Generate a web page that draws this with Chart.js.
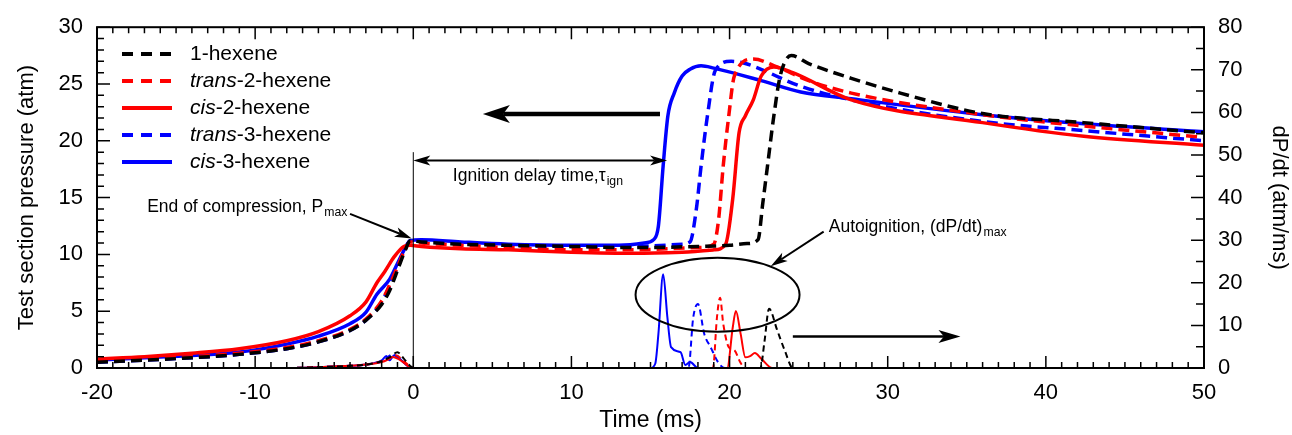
<!DOCTYPE html>
<html>
<head>
<meta charset="utf-8">
<script src="https://cdn.jsdelivr.net/npm/chart.js@4.4.1/dist/chart.umd.min.js"></script>
<style>
  html, body { margin: 0; padding: 0; background: #fff; }
  #wrap { width: 1292px; height: 435px; }
</style>
</head>
<body>
<div id="wrap"><canvas id="pressureChart"></canvas></div>
<script>
const FONT = '"Liberation Sans", Arial, Helvetica, sans-serif';

// legend / series info
const legendItalic = ["", "trans", "cis", "trans", "cis"];
const legendRest = ["1-hexene", "-2-hexene", "-2-hexene", "-3-hexene", "-3-hexene"];
const colors = ["#000000", "#ff0000", "#ff0000", "#0000ff", "#0000ff"];
const dashed = [true, true, false, true, false];

// pressure traces (atm, left axis) vs time (ms)
const hex1T = [-20, -17, -14, -11, -8, -6, -4, -3, -2, -1.5, -1, -0.5, -0.2, 0.5, 3, 6, 10, 14, 18, 20, 21.1, 21.8, 22.1, 22.4, 22.8, 23.2, 23.9, 25, 27.7, 30.8, 36, 42.4, 50];
const hex1P = [0.5, 0.7, 0.9, 1.2, 1.7, 2.3, 3.3, 4.2, 5.6, 6.8, 8.6, 10.4, 11.2, 11.1, 10.9, 10.8, 10.7, 10.6, 10.7, 10.8, 10.95, 11.3, 14.5, 17.8, 22.2, 25.7, 27.5, 26.8, 25.5, 24.2, 22.4, 21.6, 20.7];

const t2hexT = [-20, -17, -14, -11, -8, -6, -4, -3, -2, -1.5, -1, -0.5, -0.2, 0.5, 3, 6, 10, 14, 18, 19, 19.3, 19.6, 19.95, 20.3, 21.5, 23, 25, 27.7, 36, 42.4, 50];
const t2hexP = [0.6, 0.8, 1.0, 1.3, 1.8, 2.4, 3.4, 4.3, 5.9, 7.3, 8.9, 10.5, 11.1, 11.0, 10.8, 10.6, 10.4, 10.4, 10.6, 10.9, 13.0, 17.8, 22.2, 25.7, 27.2, 26.5, 25.3, 24.2, 22.3, 21.3, 20.3];

const c2hexT = [-20, -17, -14, -11, -8, -6, -4, -3, -2.3, -1.8, -1.2, -0.6, -0.2, 0.5, 3, 6, 10, 14, 17, 19, 19.75, 20.2, 20.6, 21.0, 21.5, 22.0, 22.8, 24, 27.7, 36, 42.4, 50];
const c2hexP = [0.8, 1.0, 1.3, 1.7, 2.4, 3.2, 4.6, 5.8, 7.5, 8.5, 9.8, 10.7, 10.8, 10.7, 10.5, 10.4, 10.2, 10.1, 10.2, 10.4, 10.9, 14.9, 20.7, 22.2, 23.6, 25.7, 26.5, 26.0, 23.6, 21.6, 20.4, 19.6];

const t3hexT = [-20, -17, -14, -11, -8, -6, -4, -3, -2, -1.5, -1, -0.5, -0.2, 0.5, 3, 6, 10, 14, 17, 17.5, 17.9, 18.2, 18.6, 19.1, 20.1, 21, 24.5, 27.7, 36, 42.4, 50];
const t3hexP = [0.5, 0.7, 0.9, 1.2, 1.7, 2.3, 3.3, 4.2, 5.8, 7.2, 8.8, 10.5, 11.2, 11.2, 11.0, 10.8, 10.7, 10.7, 10.9, 11.1, 14.0, 17.8, 22.2, 26.2, 27.0, 26.8, 24.8, 23.6, 21.7, 20.9, 20.0];

const c3hexT = [-20, -17, -14, -11, -8, -6, -4, -3, -2.3, -1.5, -1, -0.5, -0.2, 0.5, 3, 6, 10, 13, 14.6, 15.2, 15.5, 15.8, 16.1, 16.5, 17, 17.5, 18.2, 19, 22, 24.5, 27.7, 36, 42.4, 50];
const c3hexP = [0.7, 0.9, 1.1, 1.4, 2.1, 2.8, 3.9, 4.9, 6.5, 7.8, 9.2, 10.6, 11.2, 11.3, 11.1, 10.9, 10.8, 10.8, 11.0, 11.3, 12.5, 17.8, 22.2, 24.2, 25.7, 26.3, 26.6, 26.4, 25.3, 24.3, 23.7, 22.3, 21.5, 20.8];

// dP/dt traces (atm/ms, right axis)
const hex1DT = [-20, -8, -6, -4, -3, -2, -1.5, -1, -0.6, -0.2, 0, 21.95, 22.2, 22.5, 23.0, 23.5, 24, 50];
const hex1DV = [0, 0, 0.2, 0.5, 0.8, 1.6, 2.5, 3.7, 2.2, 0.5, 0, 0, 6, 13.9, 9, 4, 0, 0];

const t2hexDT = [-20, -8, -6, -4, -3, -2, -1.5, -1.1, -0.6, -0.2, 0, 18.95, 19.2, 19.4, 19.6, 19.95, 20.3, 20.7, 21.0, 50];
const t2hexDV = [0, 0, 0.2, 0.5, 0.8, 1.6, 2.4, 3.0, 1.6, 0.4, 0, 0, 11.8, 16.5, 10.4, 4.9, 4.2, 1.2, 0, 0];

const c2hexDT = [-20, -8, -6, -4, -3, -2, -1.6, -1.3, -0.8, -0.3, 0, 19.85, 20.2, 20.4, 20.7, 21.0, 21.3, 21.6, 22.0, 22.7, 50];
const c2hexDV = [0, 0, 0.2, 0.5, 0.8, 1.4, 2.0, 2.6, 1.8, 0.4, 0, 0, 9.5, 13.4, 8, 2.5, 2.8, 3.5, 2.2, 0, 0];

const t3hexDT = [-20, -8, -6, -4, -3, -2, -1.3, -1, -0.5, 0, 17.4, 17.7, 18.0, 18.4, 18.8, 19.3, 19.7, 50];
const t3hexDV = [0, 0, 0.2, 0.5, 0.8, 1.5, 3.2, 2.5, 1.0, 0, 0, 11.8, 15, 8, 4.9, 1.2, 0, 0];

const c3hexDT = [-20, -8, -6, -4, -3, -2, -1.7, -1.5, -1.2, -0.8, -0.3, 0, 15, 15.3, 15.5, 15.8, 16.07, 16.3, 16.9, 17.2, 17.5, 18.0, 50];
const c3hexDV = [0, 0, 0.2, 0.5, 0.8, 1.8, 2.8, 1.8, 3.0, 2.0, 0.3, 0, 0, 1, 8, 22, 11.8, 4.9, 3.7, 0.7, 1.4, 0, 0];

const pressureT = [hex1T, t2hexT, c2hexT, t3hexT, c3hexT];
const pressureP = [hex1P, t2hexP, c2hexP, t3hexP, c3hexP];
const rateT = [hex1DT, t2hexDT, c2hexDT, t3hexDT, c3hexDT];
const rateV = [hex1DV, t2hexDV, c2hexDV, t3hexDV, c3hexDV];

function toPoints(ts, vs) {
  return ts.map((t, i) => ({ x: t, y: vs[i] }));
}

const datasets = [];
for (let i = 0; i < 5; i++) {
  datasets.push({
    label: legendItalic[i] + legendRest[i],
    data: toPoints(pressureT[i], pressureP[i]),
    yAxisID: "y",
    borderColor: colors[i],
    borderWidth: 3.5,
    borderDash: dashed[i] ? [11, 6] : [],
  });
}
for (let i = 0; i < 5; i++) {
  datasets.push({
    label: legendItalic[i] + legendRest[i] + " dP/dt",
    data: toPoints(rateT[i], rateV[i]),
    yAxisID: "y2",
    borderColor: colors[i],
    borderWidth: 2,
    borderDash: dashed[i] ? [6, 4] : [],
  });
}

function arrow(ctx, x1, y1, x2, y2, w, headLen, headW) {
  const a = Math.atan2(y2 - y1, x2 - x1);
  const cos = Math.cos(a), sin = Math.sin(a);
  const bx = x2 - headLen * cos, by = y2 - headLen * sin;
  const nx = x2 - headLen * 0.75 * cos, ny = y2 - headLen * 0.75 * sin;
  ctx.lineWidth = w;
  ctx.beginPath();
  ctx.moveTo(x1, y1);
  ctx.lineTo(nx, ny);
  ctx.stroke();
  ctx.beginPath();
  ctx.moveTo(x2, y2);
  ctx.lineTo(bx + headW * sin, by - headW * cos);
  ctx.lineTo(nx, ny);
  ctx.lineTo(bx - headW * sin, by + headW * cos);
  ctx.closePath();
  ctx.fill();
}

function textSub(ctx, x, y, main, sub, size) {
  ctx.font = size + "px " + FONT;
  ctx.fillText(main, x, y);
  const w = ctx.measureText(main).width;
  ctx.font = (size * 0.7) + "px " + FONT;
  ctx.fillText(sub, x + w + 1, y + size * 0.32);
}

const framePlugin = {
  id: "frame",
  afterDatasetsDraw(chart) {
    const ctx = chart.ctx;
    const { x, y, y2 } = chart.scales;
    const X = (v) => x.getPixelForValue(v);
    const Y = (v) => y.getPixelForValue(v);
    const Y2 = (v) => y2.getPixelForValue(v);
    ctx.save();
    ctx.strokeStyle = "#000";
    ctx.fillStyle = "#000";
    ctx.setLineDash([]);
    ctx.textBaseline = "middle";
    ctx.textAlign = "left";

    // vertical marker at t = 0
    ctx.lineWidth = 1;
    ctx.beginPath();
    ctx.moveTo(X(0), Y(19));
    ctx.lineTo(X(0), Y(0));
    ctx.stroke();

    // ignition delay double arrow
    const yD = Y(18.26);
    arrow(ctx, X(8), yD, X(0), yD, 2, 17, 5);
    arrow(ctx, X(8), yD, X(16.05), yD, 2, 17, 5);
    textSub(ctx, X(2.5), Y(16.9), "Ignition delay time,\u03c4", "ign", 17.5);

    // thick arrow pointing to pressure axis
    arrow(ctx, X(15.6), Y(22.35), X(4.4), Y(22.35), 4.5, 27, 9);

    // end of compression
    textSub(ctx, X(-16.83), Y(14.17), "End of compression, P", "max", 17.5);
    arrow(ctx, X(-4.0), Y(13.57), X(-0.1), Y(11.4), 2, 17, 5);

    // autoignition ellipse
    ctx.lineWidth = 2;
    ctx.beginPath();
    ctx.ellipse(X(19.24), Y2(17.2), 82, 37, 0, 0, Math.PI * 2);
    ctx.stroke();
    textSub(ctx, X(26.27), Y(12.43), "Autoignition, (dP/dt)", "max", 17.5);
    arrow(ctx, X(25.95), Y(12.0), X(22.6), Y(8.96), 2, 17, 5);

    // arrow pointing to dP/dt axis
    arrow(ctx, X(24.0), Y2(7.4), X(34.6), Y2(7.4), 2.5, 22, 6.5);

    // frame and inward ticks
    const { left, right, top, bottom } = chart.chartArea;
    ctx.lineWidth = 2;
    ctx.strokeRect(left, top, right - left, bottom - top);
    ctx.lineWidth = 1.5;
    ctx.beginPath();
    for (let v = -20; v <= 50; v++) {
      const px = X(v);
      const len = v % 10 === 0 ? 12 : 6;
      ctx.moveTo(px, bottom); ctx.lineTo(px, bottom - len);
      ctx.moveTo(px, top); ctx.lineTo(px, top + len);
    }
    for (let v = 0; v <= 30; v++) {
      const py = Y(v);
      const len = v % 5 === 0 ? 13 : 7;
      ctx.moveTo(left, py); ctx.lineTo(left + len, py);
    }
    for (let v = 0; v <= 80; v += 5) {
      const py = Y2(v);
      const len = v % 10 === 0 ? 13 : 8;
      ctx.moveTo(right, py); ctx.lineTo(right - len, py);
    }
    ctx.stroke();

    // legend with italic prefixes
    const rowY = [54, 81, 108, 135, 162];
    for (let i = 0; i < 5; i++) {
      ctx.strokeStyle = colors[i];
      ctx.lineWidth = 4;
      ctx.setLineDash(dashed[i] ? [11, 8] : []);
      ctx.beginPath();
      ctx.moveTo(122, rowY[i]);
      ctx.lineTo(172, rowY[i]);
      ctx.stroke();
      ctx.setLineDash([]);
      ctx.fillStyle = "#000";
      let tx = 190;
      if (legendItalic[i]) {
        ctx.font = "italic 21px " + FONT;
        ctx.fillText(legendItalic[i], tx, rowY[i]);
        tx += ctx.measureText(legendItalic[i]).width;
      }
      ctx.font = "21px " + FONT;
      ctx.fillText(legendRest[i], tx, rowY[i]);
    }
    ctx.restore();
  },
};

const tickFont = { size: 22, family: FONT };
const titleFont = { size: 22, family: FONT };

new Chart(document.getElementById("pressureChart").getContext("2d"), {
  type: "line",
  data: { datasets: datasets },
  options: {
    responsive: true,
    maintainAspectRatio: false,
    animation: false,
    layout: { padding: { top: 23, left: 0, right: 0, bottom: 0 } },
    elements: {
      point: { radius: 0 },
      line: { cubicInterpolationMode: "monotone" },
    },
    plugins: {
      legend: { display: false },
      tooltip: { enabled: false },
    },
    scales: {
      x: {
        type: "linear",
        min: -20,
        max: 50,
        grid: { display: false, drawTicks: false },
        border: { display: false },
        ticks: { stepSize: 10, padding: 12, color: "#000", font: tickFont },
        title: {
          display: true,
          text: "Time (ms)",
          color: "#000",
          font: { size: 23, family: FONT },
          padding: { top: 0, bottom: 1 },
        },
        afterFit: (scale) => { scale.height = 67; },
      },
      y: {
        position: "left",
        min: 0,
        max: 30,
        grid: { display: false, drawTicks: false },
        border: { display: false },
        ticks: { stepSize: 5, padding: 14, color: "#000", font: tickFont },
        title: {
          display: true,
          text: "Test section pressure (atm)",
          color: "#000",
          font: titleFont,
          padding: { top: 14, bottom: 0 },
        },
        afterFit: (scale) => { scale.width = 97; },
      },
      y2: {
        position: "right",
        min: 0,
        max: 80,
        grid: { display: false, drawTicks: false },
        border: { display: false },
        ticks: { stepSize: 10, padding: 14, color: "#000", font: tickFont },
        title: {
          display: true,
          text: "dP/dt (atm/ms)",
          color: "#000",
          font: titleFont,
          padding: { top: 0, bottom: 0 },
        },
        afterFit: (scale) => { scale.width = 88; },
      },
    },
  },
  plugins: [framePlugin],
});
</script>
</body>
</html>
